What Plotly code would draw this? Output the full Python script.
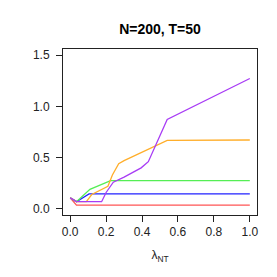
import plotly.graph_objects as go

# lambda grid and series values
lam_red = [0.0, 0.035, 1.0]
red = [0.107, 0.037, 0.037]

lam_blue = [0.0, 0.035, 0.105, 1.0]
blue = [0.107, 0.07, 0.146, 0.146]

lam_green = [0.0, 0.035, 0.11, 0.18, 0.225, 1.0]
green = [0.107, 0.07, 0.19, 0.24, 0.276, 0.276]

lam_orange = [0.0, 0.035, 0.09, 0.12, 0.21, 0.235, 0.27, 0.3, 0.54, 1.0]
orange = [0.107, 0.07, 0.07, 0.14, 0.22, 0.33, 0.44, 0.47, 0.668, 0.672]

lam_purple = [0.0, 0.035, 0.175, 0.2, 0.24, 0.3, 0.395, 0.435, 0.54, 1.0]
purple = [0.107, 0.07, 0.07, 0.16, 0.26, 0.31, 0.4, 0.46, 0.872, 1.272]

x_ticks = [0.0, 0.2, 0.4, 0.6, 0.8, 1.0]
y_ticks = [0.0, 0.5, 1.0, 1.5]

series = [
    (lam_red, red, "#ff5555"),
    (lam_blue, blue, "#2222ff"),
    (lam_green, green, "#55ee55"),
    (lam_orange, orange, "#ffae2a"),
    (lam_purple, purple, "#a83cf5"),
]

FONT = "Liberation Sans, Arial"

fig = go.Figure()
for xs, ys, col in series:
    fig.add_trace(go.Scatter(x=xs, y=ys, mode="lines",
                             line=dict(color=col, width=1.3), showlegend=False))

axis_common = dict(showline=True, linecolor="#222", linewidth=1, mirror=True,
                   ticks="outside", ticklen=6, tickcolor="#222", tickwidth=1,
                   showgrid=False, zeroline=False,
                   tickfont=dict(family=FONT, size=12, color="#222"))

fig.update_xaxes(range=[-0.04, 1.04], tickvals=x_ticks,
                 ticktext=[f"{v:.1f}" for v in x_ticks],
                 title=dict(text="λ<sub>NT</sub>", standoff=12,
                            font=dict(family=FONT, size=12, color="#222")),
                 **axis_common)
fig.update_yaxes(range=[-0.06, 1.56], tickvals=y_ticks,
                 ticktext=[f"{v:.1f}" for v in y_ticks], ticklabelstandoff=4,
                 **axis_common)

fig.update_layout(
    width=277, height=277,
    margin=dict(l=55, r=28, t=41, b=70),
    paper_bgcolor="white", plot_bgcolor="white",
    title=dict(text="<b>N=200, T=50</b>", x=152 / 277, xanchor="center",
               y=1 - 21 / 277, yanchor="middle", yref="container",
               font=dict(family=FONT, size=14, color="black")),
)

fig.write_html("out.html")
